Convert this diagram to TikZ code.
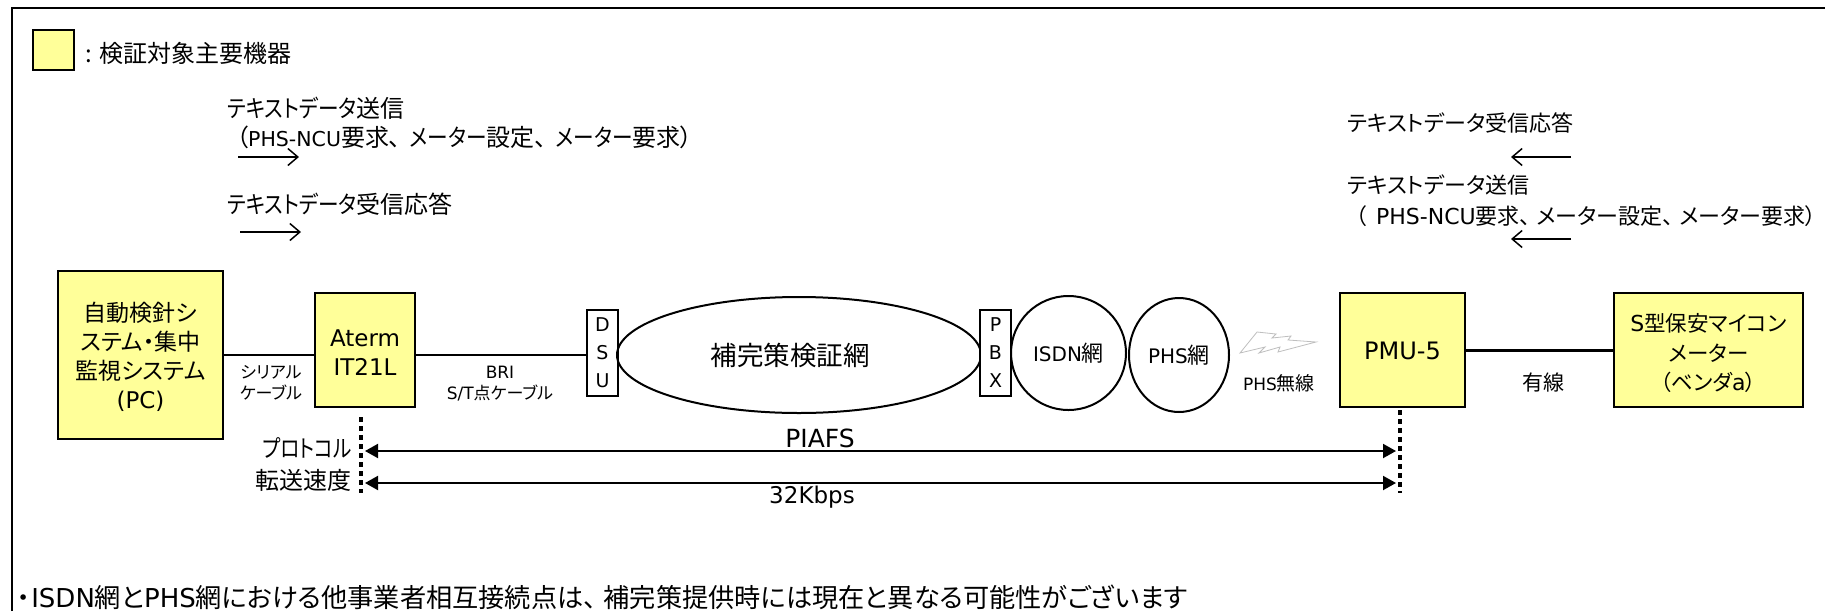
\documentclass[tikz,border=0pt]{standalone}
\usepackage{fontspec}
\usetikzlibrary{arrows.meta,shapes.geometric}
\setmainfont{Noto Sans CJK JP}[RawFeature={+palt}]
\newfontfamily\lat{DejaVu Sans}
\newfontfamily\narrowjp{Noto Sans CJK JP}[FakeStretch=0.86,RawFeature={+palt}]
\newcommand{\fs}[1]{\fontsize{#1}{#1}\selectfont}
\newcommand{\tenr}{、\hspace{6pt}}
\newcommand{\tenw}{、\hspace{7pt}}
\newcommand{\tenl}{、\hspace{9pt}}
\definecolor{dev}{RGB}{255,255,153}
\tikzset{
  x=1pt,y=-1pt,
  devbox/.style={draw=black,fill=dev,line width=2.5pt,inner sep=0pt},
  slim/.style={draw=black,fill=white,line width=2.5pt,inner sep=0pt,align=center,font=\lat\fs{19}},
  net/.style={draw=black,ellipse,line width=2pt,inner sep=0pt,align=center},
  txt/.style={inner sep=0pt,align=center,font=\fs{24}},
  ltxt/.style={inner sep=0pt,anchor=west,font=\fs{22}},
  ltxtb/.style={inner sep=0pt,anchor=west,font=\fs{24}},
  small/.style={inner sep=0pt,align=center,font=\fs{17}},
  wire/.style={line width=2.5pt},
  flow/.style={line width=1.5pt,-{Straight Barb[length=10pt,width=17pt,line width=1.5pt]}},
  span/.style={line width=2pt,{Triangle[length=13pt,width=14pt]}-{Triangle[length=13pt,width=14pt]}},
  dots/.style={line width=3.5pt,dash pattern=on 4.5pt off 4.5pt},
}
\begin{document}
\begin{tikzpicture}
\useasboundingbox (0,0) rectangle (1825,611);
% frame
\coordinate (f1) at (12,611); \coordinate (f2) at (12,8); \coordinate (f3) at (1825,8);
\draw[line width=2.5pt] (f1) -- (f2) -- (f3);
% legend
\node[devbox,minimum width=41pt,minimum height=40pt] (legend) at (53.5,50) {};
\node[ltxtb] (legendt) at (85,53) {: 検証対象主要機器};
% upper left
\node[ltxtb] (tl1) at (227,108) {{\narrowjp テキストデータ}送信};
\node[ltxtb] (tl2) at (236,137) {（{\lat\fs{20.5}PHS-NCU}要求\tenl{\narrowjp メーター}設定\tenl{\narrowjp メーター}要求）};
\coordinate (al1s) at (238,157); \coordinate (al1e) at (299,157);
\draw[flow] (al1s) -- (al1e);
\node[ltxtb] (tl3) at (227,204) {{\narrowjp テキストデータ}受信応答};
\coordinate (al2s) at (240,232); \coordinate (al2e) at (301,232);
\draw[flow] (al2s) -- (al2e);
% upper right
\node[ltxt] (tr1) at (1347,123) {テキストデータ受信応答};
\coordinate (ar1s) at (1571,157); \coordinate (ar1e) at (1511,157);
\draw[flow] (ar1s) -- (ar1e);
\node[ltxt] (tr2) at (1347,185) {テキストデータ送信};
\node[ltxt] (tr3) at (1355,216) {（\hspace{5pt} {\lat\fs{22}PHS-NCU}要求\tenr メーター設定\tenr メーター要求）};
\coordinate (ar2s) at (1571,239); \coordinate (ar2e) at (1511,239);
\draw[flow] (ar2s) -- (ar2e);
% devices
\node[devbox,minimum width=165pt,minimum height=168pt] (pc) at (140.5,355) {};
\node[txt,font=\fs{23}] (pct) at (140.5,357) {自動検針シ\\[6pt]ステム・集中\\[6pt]監視システム\\[6pt]{\lat\fs{23}(PC)}};
\node[devbox,minimum width=100pt,minimum height=114pt] (aterm) at (365,350) {};
\node[txt,font=\lat\fs{23}] (atermt) at (365,352.5) {Aterm\\[6pt]IT21L};
\node[slim,minimum width=31pt,minimum height=86pt] (dsu) at (602.5,353) {D\\[9pt]S\\[9pt]U};
\node[net,minimum width=364pt,minimum height=116pt] (hoken) at (799,355) {};
\node[txt,font=\fs{26.5}] (hokent) at (790,355) {補完策検証網};
\node[slim,minimum width=31pt,minimum height=86pt] (pbx) at (995.5,353) {P\\[9pt]B\\[9pt]X};
\node[net,minimum width=115pt,minimum height=114pt,font=\fs{22}] (isdn) at (1068.5,353) {{\lat\fs{20}ISDN}網};
\node[net,minimum width=100pt,minimum height=114pt,font=\fs{22}] (phs) at (1179,355) {{\lat\fs{20}PHS}網};
\node[devbox,minimum width=125pt,minimum height=114pt] (pmu) at (1402.5,350) {};
\node[txt,font=\lat\fs{24}] (pmut) at (1402.5,351) {PMU-5};
\node[devbox,minimum width=189pt,minimum height=114pt] (meter) at (1708.5,350) {};
\node[txt,font=\fs{21.5}] (metert) at (1708.5,353)
  {{\lat\fs{22}S}型保安マイコン\\[8pt]メーター\\[8pt]（ベンダ{\lat\fs{22}a}）};
% wires
\draw[wire] (pc.east) -- (pc.east -| aterm.west);
\draw[wire] (aterm.east |- pc.east) -- (dsu.west |- pc.east);
\draw[line width=3pt] (pmu.east) -- (meter.west);
% lightning
\draw[draw=black!25,line width=.8pt,fill=white]
  (1240,353) -- (1257,332) -- (1276,334) -- (1272,338) -- (1291,336) -- (1288,340) -- (1316,342)
  -- (1278,352) -- (1280,347) -- (1259,353) -- (1265,347) -- cycle;
% link labels
\node[small] (serial) at (271,383) {シリアル\\[4pt]ケーブル};
\node[small] (bri) at (500,384) {{\lat\fs{17}BRI}\\[4pt]{\lat\fs{17}S/T}点ケーブル};
\node[small,font=\fs{21}] (wired) at (1543,383) {有線};
\node[small,font=\fs{19}] (air) at (1279,383) {{\lat\fs{17}PHS}無線};
% spans
\coordinate (dl1) at (361,417); \coordinate (dl2) at (361,493);
\coordinate (dr1) at (1400,410); \coordinate (dr2) at (1400,493);
\draw[dots] (dl1) -- (dl2);
\draw[dots] (dr1) -- (dr2);
\coordinate (sl1) at (365,451); \coordinate (sr1) at (1396,451);
\coordinate (sl2) at (365,483); \coordinate (sr2) at (1396,483);
\draw[span] (sl1) -- (sr1);
\draw[span] (sl2) -- (sr2);
\node[inner sep=0pt,anchor=east,font=\fs{24}] (proto) at (352,448) {\fontsize{24}{24}\narrowjp\scalebox{.95}[1]{プロトコル}};
\node[inner sep=0pt,anchor=east,font=\fs{24}] (speed) at (352,480) {転送速度};
\node[txt,font=\lat\fs{25}] (piafs) at (820,438) {PIAFS};
\node[txt,font=\lat\fs{23}] (kbps) at (812,497) {32Kbps};
% note
\node[inner sep=0pt,anchor=west,font=\fs{26.2}] (note) at (17,597) {・\hspace{1pt}{\lat\fs{26}ISDN}網と{\lat\fs{26}PHS}網における他事業者相互接続点は\tenw 補完策提供時には現在と異なる可能性がございます};
\end{tikzpicture}
\end{document}
